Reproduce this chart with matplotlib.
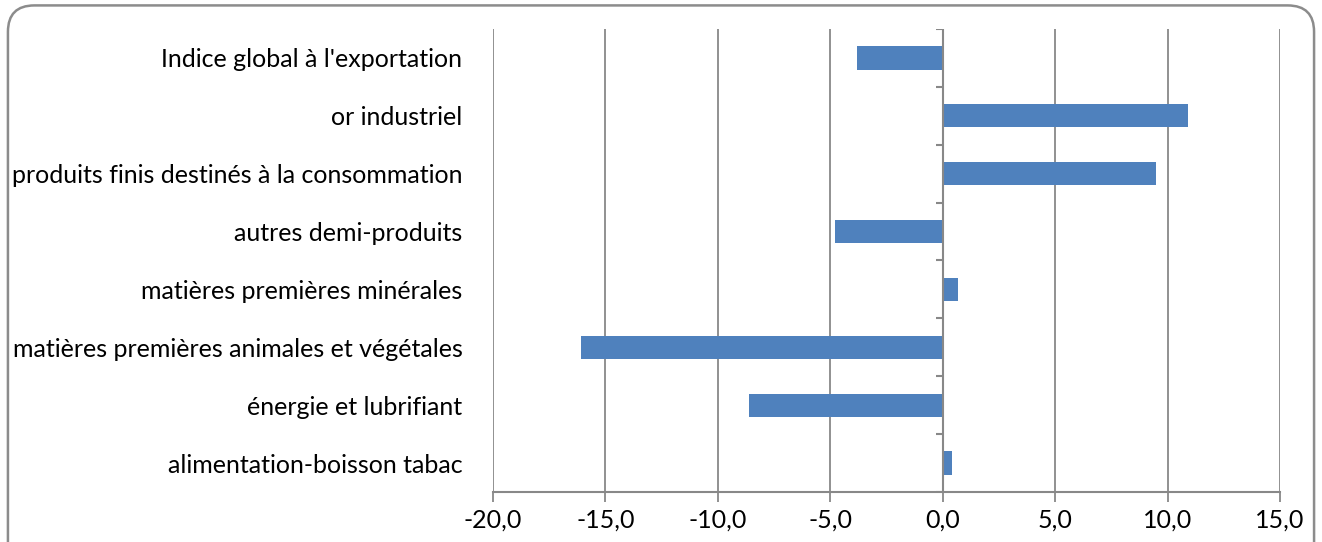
import matplotlib.pyplot as plt
from matplotlib.patches import FancyBboxPatch
import numpy as np

categories = ["alimentation-boisson tabac",
              "énergie et lubrifiant",
              "matières premières animales et végétales",
              "matières premières minérales",
              "autres demi-produits",
              "produits finis destinés à la consommation",
              "or industriel",
              "Indice global à l'exportation"]
values = [0.4, -8.6, -16.1, 0.7, -4.8, 9.5, 10.9, -3.8]
xticks = [-20, -15, -10, -5, 0, 5, 10, 15]

plt.rcParams['font.family'] = ['Lato', 'DejaVu Sans']
grey = '#888888'

fig = plt.figure(figsize=(13.22, 5.42), dpi=100)
ax = fig.add_axes([0.3729, 0.0923, 0.9682 - 0.3729, 0.9465 - 0.0923])

y = np.arange(len(categories))
ax.barh(y, values, height=0.4, color='#4F81BD', zorder=3)

ax.set_xlim(-20, 15)
ax.set_ylim(-0.5, len(categories) - 0.5)
ax.set_xticks(xticks)
ax.xaxis.set_major_formatter(plt.FuncFormatter(lambda v, p: ('%.1f' % v).replace('.', ',')))
ax.set_yticks(y)
ax.set_yticklabels(categories)

ax.grid(axis='x', color=grey, linewidth=1.3, zorder=0)
for s in ['top', 'right', 'left']:
    ax.spines[s].set_visible(False)
ax.spines['bottom'].set_color(grey)
ax.spines['bottom'].set_linewidth(1.5)

ax.tick_params(axis='x', length=7, width=1.3, color=grey, labelsize=18, pad=5)
ax.tick_params(axis='y', length=0, labelsize=18, pad=22)

# axis line at zero with category ticks
ax.axvline(0, color=grey, linewidth=1.5, zorder=4)
bounds = np.arange(len(categories) + 1) - 0.5
ax.hlines(bounds, -0.3, 0, color=grey, linewidth=1.5, zorder=4)

# rounded border
border = FancyBboxPatch((0.006, -0.05), 0.988, 1.04, boxstyle='round,pad=0,rounding_size=0.02',
                        transform=fig.transFigure, facecolor='none', edgecolor='#8c8c8c',
                        linewidth=1.8, mutation_aspect=13.22 / 5.42)
fig.patches.append(border)

fig.savefig('out.png', dpi=100)
